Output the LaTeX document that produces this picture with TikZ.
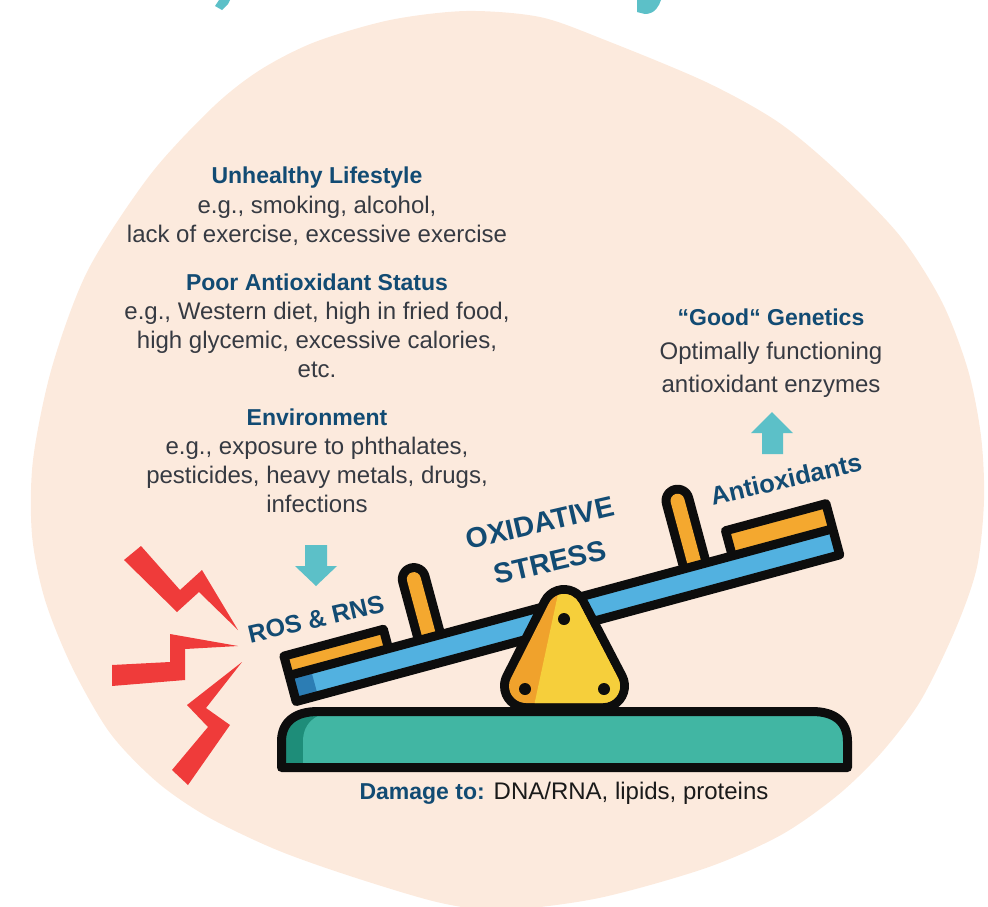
\documentclass[tikz,border=0pt]{standalone}
\usepackage{fontspec}
\setmainfont{Liberation Sans}
\definecolor{peach}{HTML}{FCEADD}
\definecolor{headblue}{HTML}{124B73}
\definecolor{bodygray}{HTML}{363A42}
\definecolor{inkdark}{HTML}{1A1A1A}
\definecolor{cyanarrow}{HTML}{5CC0C8}
\definecolor{boltred}{HTML}{EF3B3A}
\definecolor{amber}{HTML}{F4A82F}
\definecolor{skyblue}{HTML}{52B1E0}
\definecolor{deepblue}{HTML}{2C7DB4}
\definecolor{pivotyellow}{HTML}{F6CF3B}
\definecolor{pivotorange}{HTML}{F0A22C}
\definecolor{baseteal}{HTML}{41B6A3}
\definecolor{basetealdark}{HTML}{1E8D79}
\definecolor{ink}{HTML}{0D0D0D}
% rounded triangular pivot: hull of three equal circles, radius #1
\newcommand\pivothull[1]{(564,611) ++(-153.1:#1)
  arc[start angle=-153.1, end angle=-27.5, radius=#1] -- ++(39,75)
  arc[start angle=-27.5, end angle=90, radius=#1] -- ++(-77,0)
  arc[start angle=90, end angle=206.9, radius=#1] -- cycle}
\newcommand\basepath{(281.5,767.5) -- (281.5,741.5) .. controls (281.5,722) and (295,711.5) .. (318,711.5)
  -- (812,711.5) .. controls (835,711.5) and (847.5,722) .. (847.5,741.5) -- (847.5,767.5) -- cycle}
\begin{document}
\begin{tikzpicture}[x=1pt,y=-1pt,
  heading/.style={font=\bfseries\fontsize{23}{28}\selectfont, text=headblue, inner sep=0pt, anchor=base},
  body/.style={font=\fontsize{24}{29}\selectfont, text=bodygray, inner sep=0pt, anchor=base},
  tilted/.style={font=\bfseries, text=headblue, inner sep=0pt, rotate=13},
  outline/.style={draw=ink, line width=9pt, line join=round},
  bolt/.style={fill=boltred},
  cue/.style={fill=cyanarrow}]
\useasboundingbox (0,0) rectangle (988,906);
\clip (0,0) rectangle (988,906);

% peach backdrop blob
\fill[peach] plot[smooth cycle, tension=0.5] coordinates {
  (466,11) (540,17) (605,40) (706,82) (778,122) (838,172) (900,236)
  (942,302) (968,370) (981,436) (984,500) (977,567) (956,628) (921,700)
  (882,752) (838,795) (781,835) (706,868) (599,898) (504,910) (441,903)
  (353,877) (277,850) (208,817) (157,782) (110,733) (72,667) (45,600)
  (32,535) (33,460) (52,367) (88,270) (150,175) (213,107) (260,70)
  (315,42) (390,20)};

% cyan strokes of the heading letters above
\fill[cyanarrow] (219,0) -- (230,0) -- (228,4) -- (222,10) -- (215,6) -- cycle;
\fill[cyanarrow] (637,0) -- (637,12) -- (645,14) .. controls (655,14) and (659,6) .. (661,0) -- cycle;

% left column: sources of oxidants
\node[heading] (lifeh) at (317,183) {Unhealthy Lifestyle};
\node[body] (life1) at (317,213) {e.g., smoking, alcohol,};
\node[body] (life2) at (317,242) {lack of exercise, excessive exercise};
\node[heading] (dieth) at (317,290) {Poor Antioxidant Status};
\node[body] (diet1) at (317,319) {e.g., Western diet, high in fried food,};
\node[body] (diet2) at (317,348) {high glycemic, excessive calories,};
\node[body] (diet3) at (317,377) {etc.};
\node[heading] (envh) at (317,425) {Environment};
\node[body] (env1) at (317,454) {e.g., exposure to phthalates,};
\node[body] (env2) at (317,483) {pesticides, heavy metals, drugs,};
\node[body] (env3) at (317,512) {infections};

% right column: protective side
\node[heading] (genh) at (771,325) {“Good“ Genetics};
\node[body] (gen1) at (771,359) {Optimally functioning};
\node[body] (gen2) at (771,392) {antioxidant enzymes};

% arrows
\fill[cue] (305,545) -- (327,545) -- (327,566) -- (337,566) -- (316,586) -- (295,566) -- (305,566) -- cycle;
\fill[cue] (762,454) -- (783,454) -- (783,433) -- (793,433) -- (772,412) -- (751,433) -- (762,433) -- cycle;

% lightning bolts
\fill[bolt] (124,560) -- (141,546) -- (180,590) -- (202,570) -- (238,630) -- (199,592) -- (177,612) -- cycle;
\fill[bolt] (112,665) -- (170,662) -- (170,634) -- (238,646) -- (185,649) -- (185,680) -- (112,686) -- cycle;
\fill[bolt] (242,662) -- (187,705) -- (208,727) -- (172,770) -- (188,785) -- (230,725) -- (206,708) -- cycle;

% base of the seesaw
\fill[basetealdark] \basepath;
\begin{scope}
  \clip \basepath;
  \fill[baseteal] (303,780) -- (303,741.5) .. controls (303,722) and (317,711.5) .. (340,711.5)
    -- (900,711.5) -- (900,780) -- cycle;
\end{scope}
\draw[outline] \basepath;

% tilted board with handles and seats
\begin{scope}[shift={(293,707)}, rotate=15.1, yscale=-1]
  \draw[ink, line width=32pt, line cap=round] (150,30) -- (150,92);
  \draw[amber, line width=14pt, line cap=round] (150,30) -- (150,92);
  \draw[ink, line width=32pt, line cap=round] (425,30) -- (425,99);
  \draw[amber, line width=14pt, line cap=round] (425,30) -- (425,99);
  \fill[amber] (4.5,31.5) rectangle (107.5,51.5);
  \fill[amber] (463.5,31.5) rectangle (567.5,57.5);
  \fill[skyblue] (4.5,4.5) rectangle (567.5,31.5);
  \fill[deepblue] (4.5,4.5) rectangle (27,31.5);
  \draw[outline] (4.5,4.5) -- (567.5,4.5) -- (567.5,57.5) -- (463.5,57.5) -- (463.5,31.5)
    -- (107.5,31.5) -- (107.5,51.5) -- (4.5,51.5) -- cycle;
  \draw[outline] (4.5,31.5) -- (107.5,31.5) (463.5,31.5) -- (567.5,31.5);
\end{scope}

% pivot
\fill[ink] \pivothull{26};
\fill[pivotorange] \pivothull{17};
\begin{scope}
  \clip \pivothull{17};
  \fill[pivotyellow] (561,580) -- (650,580) -- (650,720) -- (531,720) -- cycle;
\end{scope}
\fill[ink] (564,619) circle (6);
\fill[ink] (525,689) circle (6);
\fill[ink] (604,689) circle (6);

% tilted labels
\node[tilted, font=\bfseries\fontsize{25}{30}\selectfont] (ros) at (316,619) {ROS \& RNS};
\node[tilted, font=\bfseries\fontsize{28.5}{34}\selectfont] (oxi) at (540,523) {OXIDATIVE};
\node[tilted, font=\bfseries\fontsize{28.5}{34}\selectfont] (str) at (550,562) {STRESS};
\node[tilted, font=\bfseries\fontsize{25.5}{30}\selectfont] (antiox) at (786,479) {Antioxidants};

% damage line
\node[body, text=inkdark] (damage) at (564,799) {\textcolor{headblue}{\bfseries\fontsize{23}{28}\selectfont Damage to:} DNA/RNA, lipids, proteins};
\end{tikzpicture}
\end{document}
